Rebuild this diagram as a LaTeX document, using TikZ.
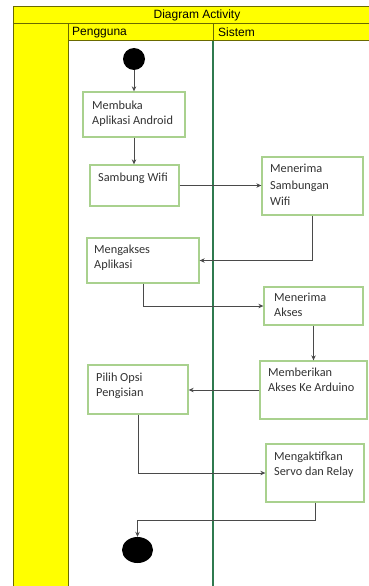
\documentclass[tikz,border=0pt]{standalone}
\usepackage{fontspec}
\setmainfont{Carlito}
\newfontfamily\hdrfont{Liberation Sans}
\usetikzlibrary{arrows.meta,calc,shapes.geometric}
\definecolor{laneyellow}{HTML}{FFFF00}
\definecolor{olivedark}{HTML}{6A6A00}
\definecolor{lanegreen}{HTML}{2F7A4F}
\definecolor{boxgreen}{HTML}{A9D18E}
\definecolor{flowgray}{HTML}{4A4A4A}
\definecolor{txtgray}{HTML}{333333}
\tikzset{
  actbox/.style={draw=boxgreen, line width=1.3pt, fill=white, rectangle, inner sep=0pt},
  acttext/.style={font=\fontsize{12.3}{15}\selectfont, text=txtgray, align=left, anchor=north west, inner sep=0pt},
  flow/.style={draw=flowgray, line width=1pt, -{Stealth[length=5pt,width=4.5pt]}},
  hdr/.style={font=\hdrfont\fontsize{12}{14}\selectfont, inner sep=0pt},
  hdrcell/.style={fill=laneyellow, draw=olivedark, line width=1pt},
}
\begin{document}
\begin{tikzpicture}[x=1pt,y=-1pt]
\useasboundingbox (0,0) rectangle (368,586);
\fill[white] (0,0) rectangle (368,586);
% swimlane frame
\draw[hdrcell] (13,7) rectangle (375,24);
\draw[hdrcell] (13,24) rectangle (68,595);
\draw[hdrcell] (68,24) rectangle (213,41);
\draw[hdrcell] (213,24) rectangle (375,41);
\draw[lanegreen, line width=1.5pt] (213,41) -- (213,595);
\node[hdr] (title) at (197,15.5) {Diagram Activity};
\node[hdr, anchor=west] (lane1) at (72,32.5) {Pengguna};
\node[hdr, anchor=west] (lane2) at (218,32.5) {Sistem};
% start / end
\node[circle, fill=black, minimum size=22pt, inner sep=0pt] (start) at (134,59) {};
\node[ellipse, fill=black, minimum width=31pt, minimum height=26pt, inner sep=0pt] (end) at (137.5,550) {};
% activity boxes
\node[actbox, minimum width=102pt, minimum height=45pt] (b1) at (134,114.5) {};
\node[actbox, minimum width=89pt,  minimum height=41pt] (b2) at (134.5,185.5) {};
\node[actbox, minimum width=101pt, minimum height=58pt] (b3) at (312.5,186) {};
\node[actbox, minimum width=112pt, minimum height=45pt] (b4) at (143,260.5) {};
\node[actbox, minimum width=99pt,  minimum height=38pt] (b5) at (313.5,306) {};
\node[actbox, minimum width=107pt, minimum height=58pt] (b6) at (313.5,390) {};
\node[actbox, minimum width=100pt, minimum height=49pt] (b7) at (138,389.5) {};
\node[actbox, minimum width=98pt,  minimum height=58pt] (b8) at (315,473) {};
% texts
\node[acttext] (t1) at (92,101) {Membuka\\Aplikasi Android};
\node[acttext] (t2) at (98,173) {Sambung Wifi};
\node[acttext, font=\fontsize{12.3}{16.5}\selectfont] (t3) at (270,164) {Menerima\\Sambungan\\Wifi};
\node[acttext] (t4) at (94,245) {Mengakses\\Aplikasi};
\node[acttext] (t5) at (274,293) {Menerima\\Akses};
\node[acttext] (t6) at (268,368) {Memberikan\\Akses Ke Arduino};
\node[acttext] (t7) at (96,373) {Pilih Opsi\\Pengisian};
\node[acttext] (t8) at (274,452) {Mengaktifkan\\Servo dan Relay};
% flows
\draw[flow] (start) -- (b1);
\draw[flow] (b1.south) -- (b1.south |- b2.north);
\draw[flow] (b2.east) -- (b2.east -| b3.west);
\draw[flow] (b3.south) |- (b4.east);
\draw[flow] (b4.south) |- (b5.west);
\draw[flow] (b5.south) -- (b5.south |- b6.north);
\draw[flow] (b6.west) -- (b6.west -| b7.east);
\draw[flow] (b7.south) |- (b8.west);
\draw[flow] (b8.south) -- ++(0,18) -| (end.north);
\end{tikzpicture}
\end{document}
